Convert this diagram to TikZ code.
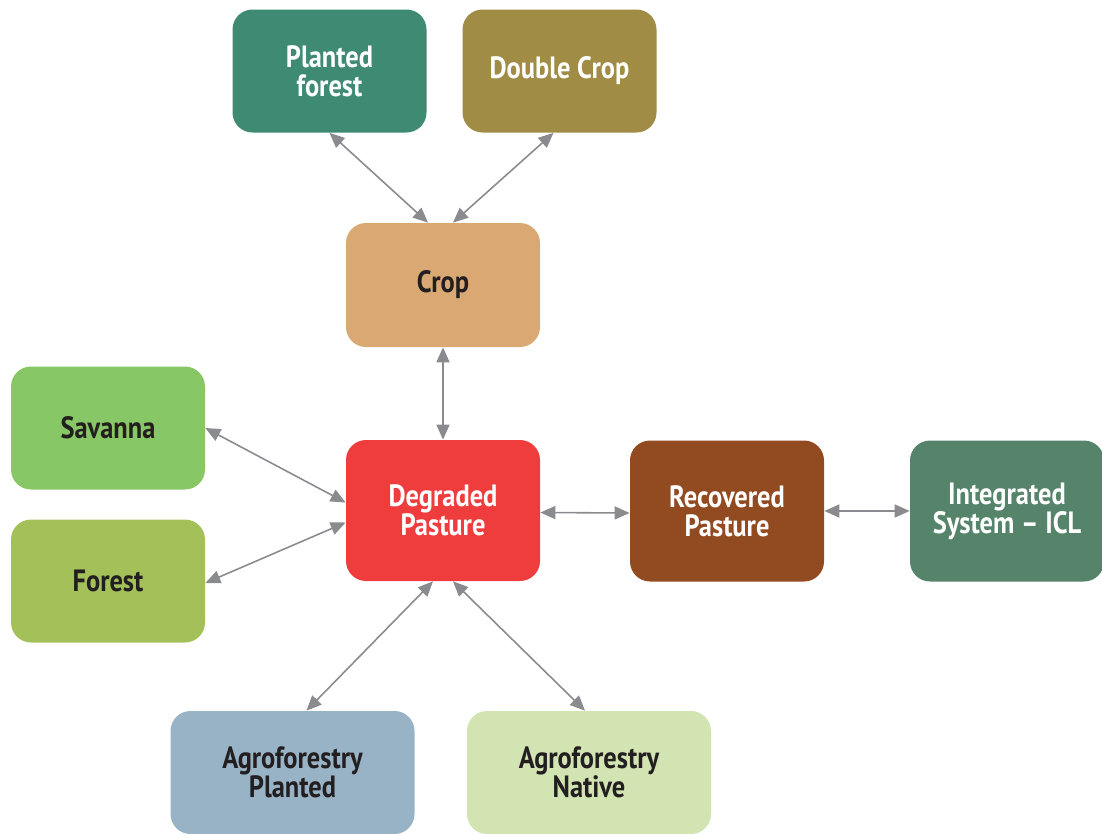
\documentclass[tikz,border=0pt]{standalone}
\usepackage{fontspec}
\setmainfont{PT Sans}[FakeStretch=0.86]
\usetikzlibrary{arrows.meta}

\definecolor{pfgreen}{HTML}{3E8A72}
\definecolor{dcolive}{HTML}{A08C45}
\definecolor{croptan}{HTML}{D9A873}
\definecolor{savgreen}{HTML}{88C765}
\definecolor{forgreen}{HTML}{A3C158}
\definecolor{degred}{HTML}{EF3D3E}
\definecolor{recbrown}{HTML}{924A21}
\definecolor{iclgreen}{HTML}{55846B}
\definecolor{agpblue}{HTML}{97B3C5}
\definecolor{agnlight}{HTML}{D1E4B1}
\definecolor{arrgray}{HTML}{8A8B8F}
\definecolor{txtdark}{HTML}{231F20}

\begin{document}
\begin{tikzpicture}[
box/.style={rounded corners=0.4cm,minimum width=3.88cm,minimum height=2.46cm,
  align=center,font=\fontsize{17.5}{16.5}\selectfont\bfseries,text=txtdark},
wbox/.style={box,text=white},
link/.style={arrgray,line width=0.9pt,{Triangle[length=0.3cm,width=0.26cm]}-{Triangle[length=0.3cm,width=0.26cm]}}
]
\useasboundingbox (0,0) rectangle (22.04,-16.68);
% top row
\node[wbox,fill=pfgreen] (pf) at (6.59,-1.42) {Planted\\forest};
\node[wbox,fill=dcolive] (dc) at (11.19,-1.42) {Double Crop};
\node[box,fill=croptan,minimum height=2.48cm] (crop) at (8.86,-5.70) {Crop};
% middle row
\node[box,fill=savgreen] (sav) at (2.16,-8.56) {Savanna};
\node[box,fill=forgreen] (forest) at (2.16,-11.62) {Forest};
\node[wbox,fill=degred,minimum height=2.82cm] (deg) at (8.86,-10.21) {Degraded\\Pasture};
\node[wbox,fill=recbrown,minimum height=2.82cm] (rec) at (14.54,-10.22) {Recovered\\Pasture};
\node[wbox,fill=iclgreen,minimum height=2.82cm] (icl) at (20.14,-10.22) {Integrated\\System -- ICL};
% bottom row
\node[box,fill=agpblue,minimum width=4.88cm] (agp) at (5.85,-15.45) {Agroforestry\\Planted};
\node[box,fill=agnlight,minimum width=4.88cm] (agn) at (11.78,-15.45) {Agroforestry\\Native};

\draw[link] (pf.south) -- ([xshift=-0.3cm]crop.north);
\draw[link] ([xshift=-0.12cm]dc.south) -- ([xshift=0.2cm]crop.north);
\draw[link] (crop.south) -- (deg.north);
\draw[link] (sav.east) -- ([yshift=0.16cm]deg.west);
\draw[link] ([yshift=-0.04cm]forest.east) -- ([yshift=-0.24cm]deg.west);
\draw[link] ([yshift=-0.04cm]deg.east) -- ([yshift=-0.04cm]rec.west);
\draw[link] (rec.east) -- (icl.west);
\draw[link] ([xshift=0.28cm]agp.north) -- ([xshift=-0.2cm]deg.south);
\draw[link] ([xshift=-0.08cm]agn.north) -- ([xshift=0.2cm]deg.south);
\end{tikzpicture}
\end{document}
